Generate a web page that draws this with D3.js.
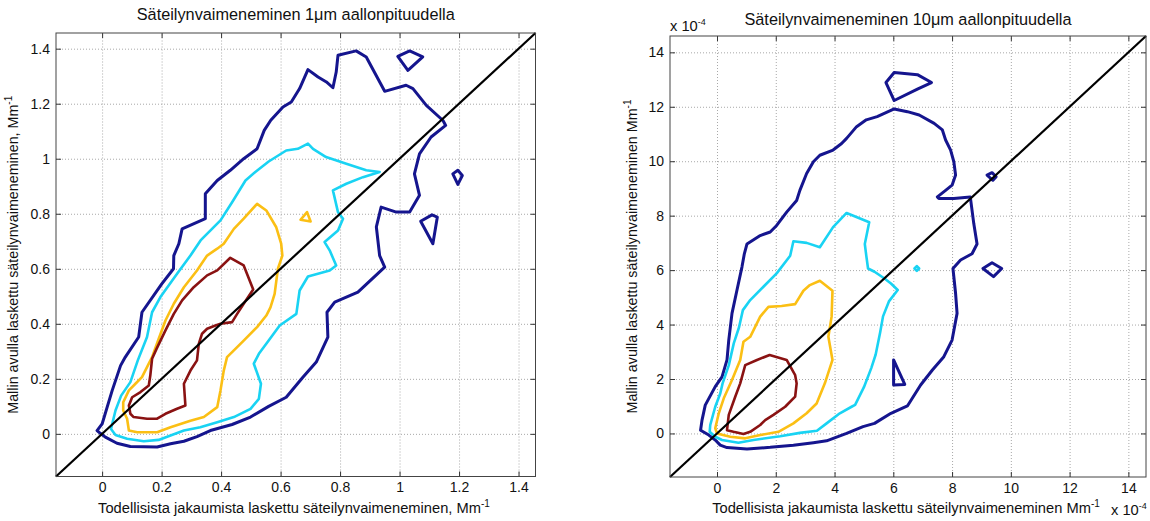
<!DOCTYPE html>
<html>
<head>
<meta charset="utf-8">
<script src="https://cdn.jsdelivr.net/npm/d3@7"></script>
<style>
  body { margin: 0; background: #fff; }
  svg { display: block; font-family: "Liberation Sans", Arial, sans-serif; }
  .grid line { stroke: #a8a8a8; stroke-dasharray: 1,2; }
  .grid path { display: none; }
  .axis path { display: none; }
  .axis line { stroke: #333; }
  .axis text { font-size: 14px; fill: #111; font-family: "Liberation Sans", Arial, sans-serif; }
  .frame { fill: none; stroke: #444; stroke-width: 1; }
  .lbl { font-size: 14.7px; fill: #111; }
  .ylbl { font-size: 14.3px; fill: #111; }
  .ttl { font-size: 16.3px; fill: #111; }
</style>
</head>
<body>
<svg id="chart" width="1150" height="521"></svg>
<script>
// tick values
const ticks1 = [0, 0.2, 0.4, 0.6, 0.8, 1, 1.2, 1.4];
const ticks10 = [0, 2, 4, 6, 8, 10, 12, 14];

// contour rings for the 1 um panel, [measured, model], one list per level
const um1Level1 = [
  [[-0.017,0.012],[0,0.036],[0.017,0.097],[0.034,0.158],[0.062,0.248],[0.078,0.279],[0.123,0.352],[0.134,0.442],[0.2,0.544],[0.24,0.6],[0.241,0.648],[0.258,0.691],[0.269,0.745],[0.347,0.782],[0.347,0.873],[0.387,0.921],[0.431,0.958],[0.476,1.0],[0.521,1.036],[0.545,1.103],[0.567,1.14],[0.608,1.188],[0.636,1.206],[0.664,1.255],[0.692,1.324],[0.726,1.297],[0.754,1.279],[0.776,1.258],[0.787,1.315],[0.793,1.376],[0.854,1.392],[0.888,1.37],[0.95,1.245],[1.022,1.267],[1.045,1.255],[1.09,1.194],[1.146,1.139],[1.155,1.121],[1.106,1.079],[1.067,1.018],[1.05,0.945],[1.067,0.867],[1.034,0.806],[0.989,0.806],[0.938,0.824],[0.922,0.752],[0.933,0.648],[0.95,0.606],[0.86,0.515],[0.782,0.479],[0.756,0.442],[0.759,0.352],[0.72,0.261],[0.675,0.206],[0.619,0.133],[0.56,0.1],[0.499,0.061],[0.437,0.034],[0.364,0.012],[0.319,-0.01],[0.275,-0.027],[0.23,-0.036],[0.185,-0.048],[0.095,-0.046],[0.05,-0.034],[0.011,-0.012],[-0.006,0.002]],
  [[0.994,1.372],[1.034,1.392],[1.078,1.37],[1.028,1.321]],
  [[1.179,0.945],[1.196,0.958],[1.211,0.939],[1.196,0.907]],
  [[1.071,0.773],[1.109,0.796],[1.127,0.788],[1.112,0.691]]
];
const um1Level2 = [
  [[0.03,0.018],[0.045,0.085],[0.064,0.139],[0.095,0.188],[0.12,0.267],[0.151,0.352],[0.168,0.442],[0.196,0.497],[0.252,0.582],[0.297,0.648],[0.331,0.703],[0.398,0.776],[0.437,0.842],[0.482,0.921],[0.515,0.952],[0.56,0.99],[0.619,1.03],[0.658,1.036],[0.692,1.055],[0.709,1.036],[0.753,1.006],[0.821,0.982],[0.888,0.958],[0.933,0.952],[0.877,0.933],[0.821,0.909],[0.776,0.885],[0.793,0.806],[0.81,0.782],[0.793,0.739],[0.748,0.697],[0.765,0.667],[0.787,0.612],[0.765,0.594],[0.692,0.572],[0.664,0.521],[0.653,0.436],[0.597,0.394],[0.56,0.339],[0.527,0.291],[0.51,0.255],[0.534,0.182],[0.527,0.127],[0.499,0.091],[0.443,0.061],[0.387,0.042],[0.33,0.024],[0.275,0.012],[0.23,-0.006],[0.19,-0.022],[0.14,-0.027],[0.084,-0.018],[0.045,-0.004]]
];
const um1Level3 = [
  [[0.09,0.012],[0.084,0.055],[0.071,0.085],[0.071,0.115],[0.09,0.158],[0.112,0.182],[0.134,0.206],[0.168,0.279],[0.19,0.345],[0.213,0.412],[0.241,0.473],[0.275,0.533],[0.319,0.594],[0.353,0.648],[0.387,0.673],[0.409,0.691],[0.443,0.745],[0.476,0.782],[0.521,0.836],[0.552,0.812],[0.585,0.752],[0.602,0.691],[0.606,0.648],[0.591,0.6],[0.58,0.509],[0.566,0.46],[0.552,0.43],[0.521,0.388],[0.476,0.339],[0.437,0.297],[0.42,0.279],[0.409,0.23],[0.398,0.158],[0.387,0.097],[0.342,0.061],[0.297,0.048],[0.23,0.024],[0.185,0.006],[0.118,0.006]],
  [[0.667,0.778],[0.689,0.806],[0.701,0.772]]
];
const um1Level4 = [
  [[0.431,0.64],[0.476,0.612],[0.508,0.525],[0.476,0.473],[0.454,0.436],[0.437,0.406],[0.398,0.4],[0.381,0.394],[0.353,0.382],[0.336,0.364],[0.325,0.327],[0.319,0.267],[0.297,0.23],[0.275,0.182],[0.28,0.103],[0.252,0.091],[0.213,0.073],[0.185,0.055],[0.151,0.055],[0.106,0.061],[0.095,0.073],[0.09,0.103],[0.101,0.133],[0.129,0.152],[0.157,0.176],[0.162,0.212],[0.168,0.273],[0.183,0.309],[0.213,0.376],[0.241,0.436],[0.269,0.485],[0.308,0.533],[0.353,0.576],[0.387,0.594]]
];

// contour rings for the 10 um panel (units of 1e-4)
const um10Level1 = [
  [[6.03,11.92],[5.45,11.64],[5.08,11.52],[4.75,11.27],[4.41,10.84],[4.24,10.65],[3.95,10.41],[3.5,10.22],[3.28,9.98],[3.05,9.55],[2.82,8.93],[2.71,8.56],[2.37,8.13],[2.03,7.64],[1.81,7.4],[1.47,7.27],[1.02,6.96],[0.93,6.6],[0.85,6.12],[0.68,5.27],[0.51,4.41],[0.4,3.43],[0.34,2.7],[0.17,2.08],[-0.06,1.72],[-0.4,1.04],[-0.51,0.49],[-0.56,0.12],[-0.28,-0.06],[-0.06,-0.24],[0.11,-0.43],[0.34,-0.52],[1.02,-0.57],[1.81,-0.51],[2.6,-0.43],[3.28,-0.34],[3.73,-0.27],[4.41,0.0],[4.97,0.25],[5.36,0.37],[5.92,0.74],[6.48,1.01],[6.93,1.78],[7.33,2.33],[7.72,2.82],[8.0,3.43],[8.17,4.41],[8.12,5.14],[8.03,6.06],[8.29,6.37],[8.68,6.6],[8.85,6.96],[8.74,7.7],[8.62,8.69],[8.06,8.63],[7.55,8.63],[7.5,8.69],[7.78,8.93],[8.0,9.12],[8.12,9.49],[8.06,9.98],[7.95,10.41],[7.78,10.78],[7.67,11.15],[7.39,11.39],[6.88,11.7],[6.48,11.82]],
  [[5.75,12.89],[6.03,13.26],[6.82,13.18],[7.3,12.89],[6.82,12.65],[6.03,12.23]],
  [[9.19,9.49],[9.36,9.58],[9.5,9.43],[9.39,9.3]],
  [[9.05,6.06],[9.36,6.27],[9.69,6.06],[9.41,5.76]],
  [[6.01,2.7],[6.01,1.78],[6.39,1.8]]
];
const um10Level2 = [
  [[4.41,8.1],[5.18,7.76],[5.03,6.96],[5.08,6.53],[5.14,6.06],[5.36,5.94],[5.7,5.69],[5.92,5.51],[6.15,5.27],[5.85,4.85],[5.65,4.3],[5.55,3.7],[5.4,2.9],[5.25,2.4],[5.0,1.7],[4.7,1.05],[4.58,0.98],[4.18,0.74],[3.73,0.37],[3.4,0.1],[2.82,0.02],[2.15,-0.1],[1.24,-0.24],[0.73,-0.34],[0.17,-0.24],[-0.06,-0.12],[-0.25,0.06],[-0.23,0.31],[-0.06,0.98],[0.11,1.47],[0.19,1.84],[0.4,2.5],[0.57,3.31],[0.75,3.9],[0.88,4.53],[1.13,4.9],[1.58,5.39],[2.03,5.88],[2.49,6.53],[2.6,7.06],[3.05,7.0],[3.5,6.84],[3.95,7.58]],
  [[6.72,6.06],[6.8,6.15],[6.88,6.06],[6.8,5.97]]
];
const um10Level3 = [
  [[3.5,5.61],[3.93,5.24],[3.9,4.29],[3.79,3.55],[3.93,2.7],[3.67,1.84],[3.39,1.1],[3.05,0.74],[2.6,0.37],[2.09,0.06],[1.47,-0.06],[0.96,-0.18],[0.45,-0.12],[0,0],[-0.06,0.19],[0.06,0.74],[0.23,1.29],[0.51,1.96],[0.79,2.7],[0.9,3.37],[1.13,3.55],[1.47,4.29],[1.75,4.65],[2.2,4.68],[2.66,4.75],[2.94,5.24],[3.16,5.45]]
];
const um10Level4 = [
  [[1.79,2.88],[2.37,2.7],[2.66,2.14],[2.71,1.84],[2.66,1.35],[2.32,0.98],[1.92,0.68],[1.64,0.49],[1.47,0.31],[1.13,0.06],[0.9,-0.02],[0.56,0.06],[0.34,0.12],[0.4,0.68],[0.62,1.35],[0.79,1.84],[0.96,2.51],[1.36,2.7]]
];

const levelColors = ['#15158e', '#19d3f3', '#fbbf14', '#8a1212'];

const svg = d3.select('#chart');

function drawPanel(p) {
  const x = d3.scaleLinear().domain(p.domain).range([p.left, p.right]);
  const y = d3.scaleLinear().domain(p.domain).range([p.bottom, p.top]);
  const w = p.right - p.left, h = p.bottom - p.top;
  const g = svg.append('g');

  // dotted grid
  g.append('g').attr('class', 'grid')
    .attr('transform', `translate(0,${p.bottom})`)
    .call(d3.axisBottom(x).tickValues(p.ticks).tickSize(-h).tickFormat(''));
  g.append('g').attr('class', 'grid')
    .attr('transform', `translate(${p.left},0)`)
    .call(d3.axisLeft(y).tickValues(p.ticks).tickSize(-w).tickFormat(''));

  // contour lines
  const ring = d3.line().x(d => x(d[0])).y(d => y(d[1])).curve(d3.curveLinearClosed);
  p.levels.forEach((rings, i) => {
    g.append('g').selectAll('path')
      .data(rings)
      .join('path')
      .attr('d', ring)
      .attr('fill', 'none')
      .attr('stroke', levelColors[i])
      .attr('stroke-width', i === 0 ? 3 : 2.6)
      .attr('stroke-linejoin', 'round');
  });

  // 1:1 line
  g.append('path')
    .datum(p.domain.map(v => [v, v]))
    .attr('d', d3.line().x(d => x(d[0])).y(d => y(d[1])))
    .attr('fill', 'none')
    .attr('stroke', '#000')
    .attr('stroke-width', 2.2);

  // ticks on all four sides, pointing inwards
  g.append('g').attr('class', 'axis')
    .attr('transform', `translate(0,${p.bottom})`)
    .call(d3.axisBottom(x).tickValues(p.ticks).tickSize(-5).tickPadding(6).tickFormat(d3.format('~g')));
  g.append('g').attr('class', 'axis')
    .attr('transform', `translate(0,${p.top})`)
    .call(d3.axisTop(x).tickValues(p.ticks).tickSize(-5).tickFormat(''));
  g.append('g').attr('class', 'axis')
    .attr('transform', `translate(${p.left},0)`)
    .call(d3.axisLeft(y).tickValues(p.ticks).tickSize(-5).tickPadding(p.yPad).tickFormat(d3.format('~g')));
  g.append('g').attr('class', 'axis')
    .attr('transform', `translate(${p.right},0)`)
    .call(d3.axisRight(y).tickValues(p.ticks).tickSize(-5).tickFormat(''));

  g.append('rect').attr('class', 'frame')
    .attr('x', p.left).attr('y', p.top).attr('width', w).attr('height', h);

  // title
  g.append('text').attr('class', 'ttl')
    .attr('x', (p.left + p.right) / 2).attr('y', p.titleY)
    .attr('text-anchor', 'middle')
    .text(p.title);

  // x label with superscript
  const xl = g.append('text').attr('class', 'lbl')
    .attr('x', p.xLabelX).attr('y', 513)
    .attr('text-anchor', 'middle');
  xl.append('tspan').text(p.xLabel);
  xl.append('tspan').attr('dy', -6).attr('font-size', 10).text('-1');

  // y label, rotated
  const yl = g.append('text').attr('class', 'ylbl')
    .attr('transform', `translate(${p.yLabelX},${(p.top + p.bottom) / 2}) rotate(-90)`)
    .attr('text-anchor', 'middle');
  yl.append('tspan').text(p.yLabel);
  yl.append('tspan').attr('dy', -6).attr('font-size', 10).text('-1');

  return { x, y };
}

drawPanel({
  domain: [-0.155, 1.457], ticks: ticks1,
  left: 56, right: 535.5, top: 33, bottom: 476.5, yPad: 6,
  levels: [um1Level1, um1Level2, um1Level3, um1Level4],
  title: 'Säteilynvaimeneminen 1μm aallonpituudella', titleY: 20,
  xLabel: 'Todellisista jakaumista laskettu säteilynvaimeneminen, Mm',
  xLabelX: 294,
  yLabel: 'Mallin avulla laskettu säteilynvaimeneminen, Mm',
  yLabelX: 18
});

drawPanel({
  domain: [-1.6, 14.6], ticks: ticks10,
  left: 670, right: 1146, top: 36, bottom: 477, yPad: 6,
  levels: [um10Level1, um10Level2, um10Level3, um10Level4],
  title: 'Säteilynvaimeneminen 10μm aallonpituudella', titleY: 25,
  xLabel: 'Todellisista jakaumista laskettu säteilynvaimeneminen Mm',
  xLabelX: 906,
  yLabel: 'Mallin avulla laskettu säteilynvaimeneminen Mm',
  yLabelX: 637
});

// exponent markers of the 10 um panel
const e1 = svg.append('text').attr('class', 'lbl').attr('x', 670).attr('y', 31).attr('font-size', 13);
e1.append('tspan').text('x 10');
e1.append('tspan').attr('dy', -6).attr('font-size', 9).text('-4');
const e2 = svg.append('text').attr('class', 'lbl').attr('x', 1111).attr('y', 515).attr('font-size', 14);
e2.append('tspan').text('x 10');
e2.append('tspan').attr('dy', -6).attr('font-size', 9).text('-4');
</script>
</body>
</html>
